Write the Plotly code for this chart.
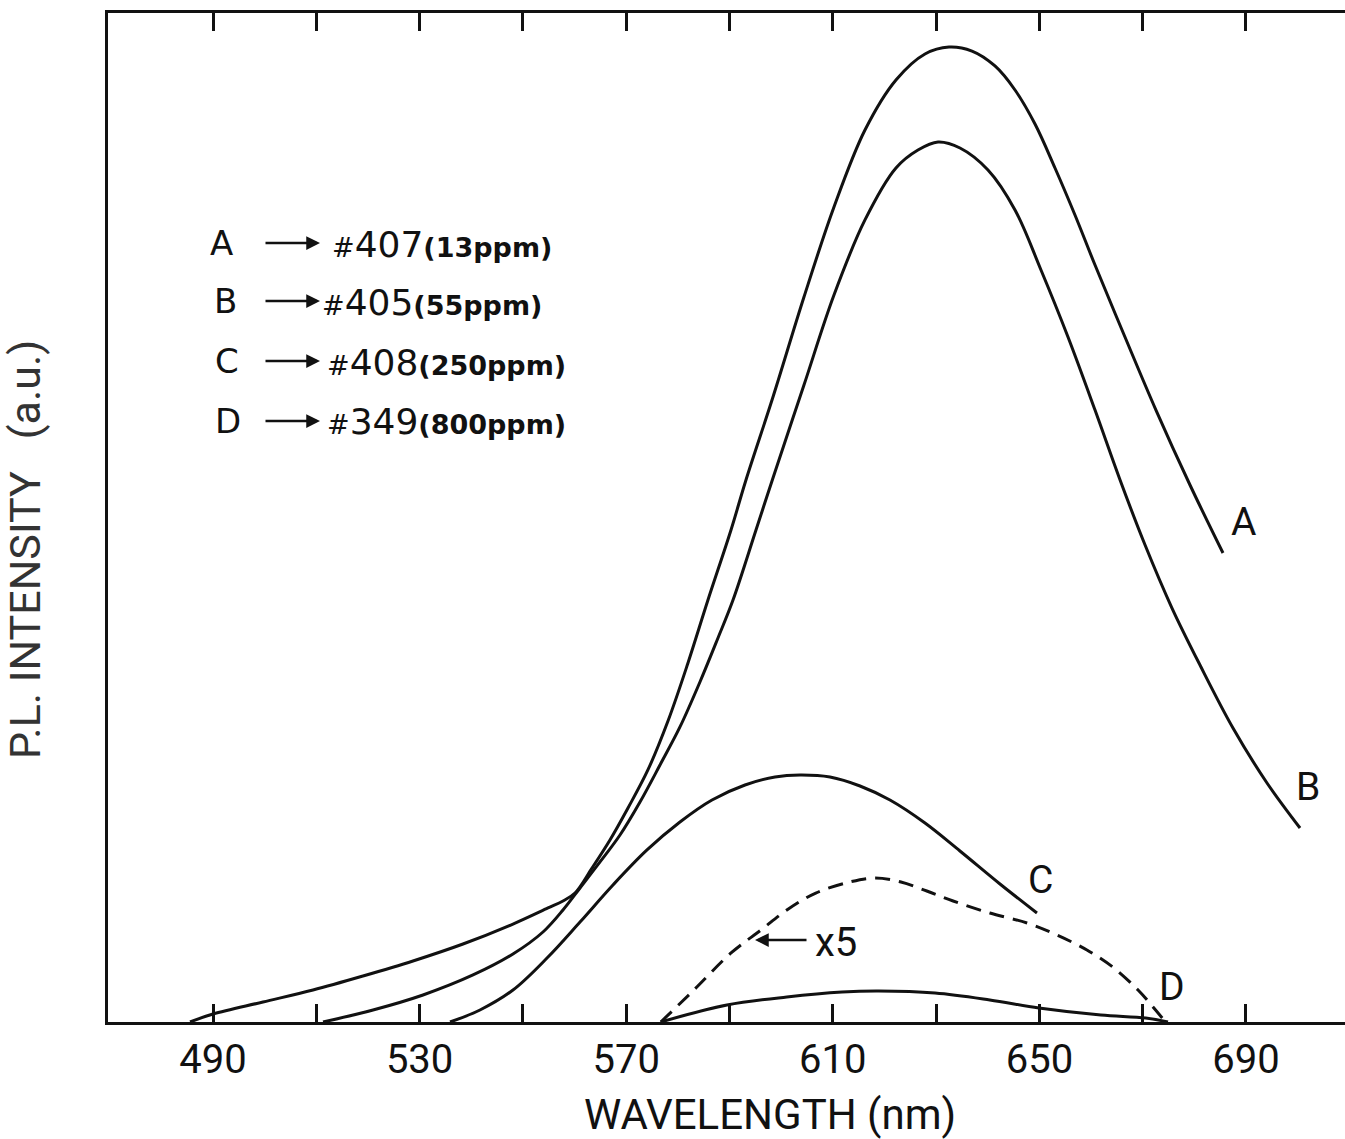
import plotly.graph_objects as go

# ---- data: wavelength (nm) vs PL intensity (a.u.) ----
wl_A = [485.55, 490.0, 499.68, 509.36, 519.04, 528.72, 538.40, 548.08, 554.86, 557.76,
        560.09, 563.38, 566.86, 570.35, 574.20, 578.09, 581.96, 585.83, 590.29, 593.19,
        598.42, 604.42, 610.23, 616.23, 622.23, 627.85, 632.49, 636.95, 641.40, 645.28,
        649.15, 653.02, 656.89, 660.77, 666.57, 672.57, 679.16, 685.55]
int_A = [0.0, 0.79, 1.98, 3.17, 4.56, 6.05, 7.73, 9.71, 11.30, 11.99,
         12.78, 15.26, 18.04, 21.21, 24.98, 29.83, 35.58, 41.82, 48.76, 53.72,
         61.94, 71.85, 80.77, 88.40, 93.36, 95.94, 96.63, 96.23, 94.75, 92.37,
         89.00, 84.64, 79.98, 75.02, 67.89, 60.65, 53.22, 46.48]

wl_B = [511.30, 520.98, 530.66, 540.34, 548.08, 553.89, 557.76, 561.06, 564.93, 568.80,
        572.67, 576.54, 580.41, 584.28, 587.77, 590.68, 595.13, 598.42, 604.42, 610.23,
        616.23, 622.23, 626.49, 630.37, 634.63, 640.05, 645.28, 650.31, 655.54, 660.77,
        665.62, 670.46, 675.67, 681.09, 687.48, 694.07, 700.46]
int_B = [0.0, 1.19, 2.68, 4.66, 6.74, 8.92, 11.10, 13.28, 15.86, 18.53,
         21.80, 25.47, 29.24, 33.70, 38.06, 41.82, 48.76, 53.92, 63.13, 72.05,
         79.49, 84.64, 86.42, 87.22, 86.62, 84.44, 80.48, 74.53, 67.89, 60.65,
         53.72, 47.27, 41.03, 35.38, 29.14, 23.69, 19.23]

wl_C = [535.89, 541.69, 548.08, 554.67, 561.06, 567.44, 574.03, 580.41, 586.61, 593.00,
        598.81, 603.65, 609.46, 615.27, 621.07, 627.85, 634.62, 642.37, 649.53]
int_C = [0.0, 1.19, 3.17, 6.34, 9.91, 13.58, 17.05, 19.82, 22.00, 23.49,
         24.28, 24.48, 24.28, 23.39, 22.00, 19.72, 16.95, 13.68, 10.80]

wl_D = [576.7, 589.5, 601.1, 611.8, 618.9, 629.8, 640.4, 649.9, 661.9, 670.6, 674.9]
int_D = [0.0, 1.68, 2.48, 2.97, 3.07, 2.87, 2.18, 1.39, 0.69, 0.40, 0.0]

# curve D magnified x5 (dashed)
wl_D5 = [576.7, 583.1, 590.3, 596.1, 601.1, 606.7, 613.3, 618.2, 623.2, 628.2, 633.3,
         640.4, 647.6, 653.4, 659.2, 664.2, 669.1, 672.0, 674.1]
int_D5 = [0.0, 3.17, 6.84, 9.12, 11.10, 12.78, 13.88, 14.27, 13.88, 12.98, 11.99,
          10.80, 9.81, 8.62, 7.14, 5.45, 3.17, 1.49, 0.2]

tick_vals = [490, 510, 530, 550, 570, 590, 610, 630, 650, 670, 690]
tick_text = ["490", "", "530", "", "570", "", "610", "", "650", "", "690"]

legend_letters = ["A", "B", "C", "D"]
legend_samples = ["407", "405", "408", "349"]
legend_ppm = ["13ppm", "55ppm", "250ppm", "800ppm"]

INK = "#111111"
W, H = 1345, 1139
L, R, T, B = 108, 0, 13, 117


def px(xp):
    return (xp - L) / (W - L - R)


def py(yp):
    return (H - B - yp) / (H - B - T)


fig = go.Figure()
line_style = dict(color=INK, width=3, shape="spline", smoothing=1.0)
for xs, ys in [(wl_A, int_A), (wl_B, int_B), (wl_C, int_C), (wl_D, int_D)]:
    fig.add_trace(go.Scatter(x=xs, y=ys, mode="lines", line=line_style,
                             showlegend=False, hoverinfo="skip"))
fig.add_trace(go.Scatter(x=wl_D5, y=int_D5, mode="lines",
                         line=dict(color=INK, width=3, dash="15px,9px",
                                   shape="spline", smoothing=1.0),
                         showlegend=False, hoverinfo="skip"))

ann = []
AX_FONT = "Roboto, Liberation Sans, Arial, sans-serif"
LEG_FONT = "DejaVu Sans, Liberation Sans, sans-serif"

# curve labels
for lab, (xp, yp) in zip(["A", "B", "C", "D"],
                         [(1243, 522), (1308, 787), (1040, 880), (1172, 987)]):
    ann.append(dict(x=px(xp), y=py(yp), xref="paper", yref="paper", text=lab,
                    showarrow=False, font=dict(family=AX_FONT, size=39, color=INK),
                    xanchor="center", yanchor="middle"))

# x5 marker
ann.append(dict(x=px(836), y=py(942), xref="paper", yref="paper", text="x5",
                showarrow=False, font=dict(family=AX_FONT, size=40, color=INK),
                xanchor="center", yanchor="middle"))
ann.append(dict(x=px(755), y=py(940), xref="paper", yref="paper", text="",
                showarrow=True, ax=53, ay=0, arrowhead=2, arrowsize=1.1,
                arrowwidth=2.5, arrowcolor=INK, standoff=0))

# legend block
rows_y = [243, 301, 361, 421]
letter_x = [221, 225, 227, 228]
hash_x = [330, 320, 325, 325]
for i in range(4):
    y = rows_y[i]
    ann.append(dict(x=px(letter_x[i]), y=py(y), xref="paper", yref="paper",
                    text=legend_letters[i], showarrow=False,
                    font=dict(family=LEG_FONT, size=34, color=INK),
                    xanchor="center", yanchor="middle"))
    ann.append(dict(x=px(320), y=py(y), xref="paper", yref="paper", text="",
                    showarrow=True, ax=-56, ay=0, arrowhead=2, arrowsize=1.1,
                    arrowwidth=2.5, arrowcolor=INK, standoff=0))
    txt = ("#<span style='font-size:36px'>%s</span>"
           "<b>(%s)</b>" % (legend_samples[i], legend_ppm[i]))
    ann.append(dict(x=px(hash_x[i]), y=py(y + 1), xref="paper", yref="paper",
                    text=txt, showarrow=False,
                    font=dict(family=LEG_FONT, size=27, color=INK),
                    xanchor="left", yanchor="middle"))

# axis titles
ann.append(dict(x=px(770), y=py(1114), xref="paper", yref="paper",
                text="WAVELENGTH (nm)", showarrow=False,
                font=dict(family=AX_FONT, size=42, color=INK),
                xanchor="center", yanchor="middle"))
ann.append(dict(x=px(25), y=py(550), xref="paper", yref="paper",
                text="P.L. INTENSITY\u00a0\u00a0 (a.u.)", showarrow=False, textangle=-90,
                font=dict(family=AX_FONT, size=43, color="#333333"),
                xanchor="center", yanchor="middle"))

fig.update_layout(
    width=W, height=H,
    margin=dict(l=L, r=R, t=T, b=B, pad=0),
    paper_bgcolor="white", plot_bgcolor="white",
    annotations=ann,
    xaxis=dict(range=[469.67, 709.17], tickmode="array", tickvals=tick_vals,
               ticktext=tick_text, ticks="inside", ticklen=18, tickwidth=2.5,
               tickcolor=INK, showline=True, linecolor=INK, linewidth=3,
               mirror="ticks", showgrid=False, zeroline=False,
               tickfont=dict(family=AX_FONT, size=40, color=INK),
               ticklabelstandoff=0),
    yaxis=dict(range=[0, 100], showline=True, linecolor=INK, linewidth=3,
               mirror=False, showgrid=False, zeroline=False, showticklabels=False,
               ticks=""),
)

fig.write_html("out.html")
